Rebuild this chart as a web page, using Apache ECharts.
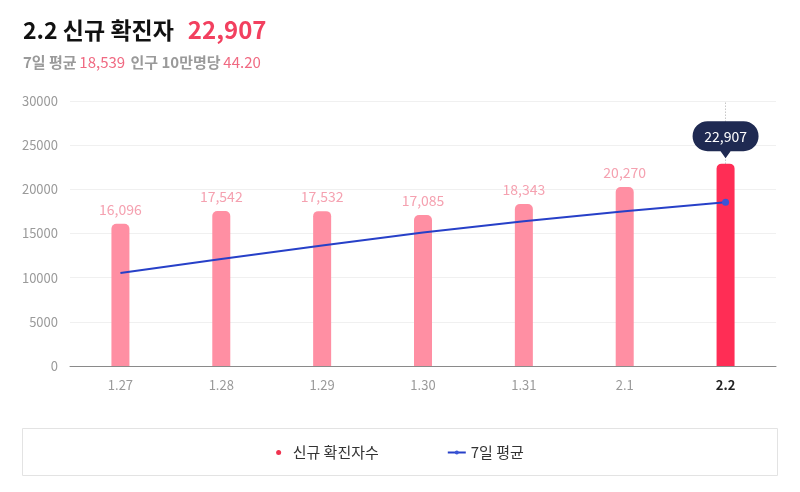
<!DOCTYPE html>
<html><head><meta charset="utf-8">
<script src="https://cdn.jsdelivr.net/npm/echarts@6/dist/echarts.min.js"></script>
<style>html,body{margin:0;padding:0;background:#fff}#c{width:800px;height:492px}</style>
</head><body><div id="c"></div>
<script>
const categories = ['1.27','1.28','1.29','1.30','1.31','2.1','2.2'];
const newCases = [16096, 17542, 17532, 17085, 18343, 20270, 22907];
const avg7 = [10530, 12120, 13630, 15110, 16390, 17530, 18539];
const yTicks = [0, 5000, 10000, 15000, 20000, 25000, 30000];
const titleDate = '2.2';
const titleTotal = '22,907';
const avgText = '18,539';
const per100k = '44.20';

const FONT = '"Noto Sans CJK KR", "Noto Sans", sans-serif';
const last = categories.length - 1;
const fmt = v => v.toLocaleString('en-US');

const chart = echarts.init(document.getElementById('c'));
chart.setOption({
  animation: false,
  textStyle: { fontFamily: FONT },
  title: {
    left: 18, top: 13,
    text: '{a|' + titleDate + ' 신규 확진자}{b|' + titleTotal + '}',
    subtext: '{g|7일 평균} {p|' + avgText + '}  {g|인구 10만명당} {p|' + per100k + '}',
    itemGap: 13,
    textStyle: { rich: {
      a: { fontSize: 23, fontWeight: 'bold', color: '#111', fontFamily: FONT },
      b: { fontSize: 24, fontWeight: 'bold', color: '#f2405f', fontFamily: FONT, padding: [0, 0, 0, 14] }
    } },
    subtextStyle: { rich: {
      g: { fontSize: 15, fontWeight: 'bold', color: '#9a9a9a', fontFamily: FONT },
      p: { fontSize: 15, color: '#f06a82', fontFamily: FONT }
    } }
  },
  grid: { left: 70, right: 24, top: 101, bottom: 126 },
  legend: {
    top: 440, left: 'center', itemGap: 68,
    itemWidth: 18, itemHeight: 5,
    textStyle: { fontSize: 15, color: '#333', fontFamily: FONT },
    data: [
      { name: '신규 확진자수', icon: 'circle', itemStyle: { color: '#f0324f' } },
      { name: '7일 평균' }
    ]
  },
  graphic: [{
    type: 'rect', left: 20, top: 426, silent: true,
    shape: { width: 755, height: 47 },
    style: { fill: 'none', stroke: '#e3e3e3', lineWidth: 1 }
  }],
  xAxis: {
    type: 'category', data: categories,
    axisTick: { show: false },
    axisLine: { lineStyle: { color: '#8a8a8a' } },
    axisLabel: {
      margin: 13, fontSize: 13, color: '#9a9a9a', fontFamily: FONT,
      formatter: (v, i) => i === last ? '{b|' + v + '}' : v,
      rich: { b: { fontWeight: 'bold', color: '#222', fontSize: 13, fontFamily: FONT } }
    }
  },
  yAxis: {
    type: 'value', min: yTicks[0], max: yTicks[yTicks.length - 1], interval: yTicks[1] - yTicks[0],
    axisLine: { show: false }, axisTick: { show: false },
    axisLabel: { margin: 12, fontSize: 13, color: '#9a9a9a', fontFamily: FONT, formatter: v => String(v) },
    splitLine: { lineStyle: { color: '#f0f0f0' } }
  },
  series: [{
    name: '신규 확진자수', type: 'bar', barWidth: 18,
    itemStyle: { color: '#ff8fa3', borderRadius: [5, 5, 0, 0] },
    data: newCases.map((v, i) => i === last
      ? { value: v, itemStyle: { color: '#ff2d55' }, label: { show: false } }
      : v),
    label: {
      show: true, position: 'top', distance: 7, fontSize: 14, color: '#f5a1b0', fontFamily: FONT,
      formatter: p => fmt(p.value)
    },
    markLine: {
      silent: true, symbol: 'none', animation: false,
      lineStyle: { type: [1, 2], color: '#aaa', width: 1 },
      label: { show: false },
      data: [[ { coord: [categories[last], newCases[last]] }, { coord: [categories[last], yTicks[yTicks.length - 1]] } ]]
    },
    markPoint: {
      silent: true, animation: false,
      symbol: 'path://M15,0 H51 A15,15 0 0 1 51,30 H38 L33,37 L28,30 H15 A15,15 0 0 1 15,0 Z',
      symbolSize: [66, 37], symbolKeepAspect: false,
      symbolOffset: [0, -24],
      itemStyle: { color: '#1f2a52' },
      label: { show: true, position: 'inside', offset: [0, -3], color: '#fff', fontSize: 14, fontFamily: FONT,
        formatter: p => fmt(p.value) },
      data: [{ coord: [categories[last], newCases[last]], value: newCases[last] }]
    }
  }, {
    name: '7일 평균', type: 'line', z: 5,
    color: '#2740c8',
    symbol: 'circle', symbolSize: 7, showSymbol: true,
    lineStyle: { width: 2, color: '#2740c8' },
    itemStyle: { color: '#3a55d6' },
    data: avg7.map((v, i) => i === last ? { value: v } : { value: v, symbol: 'none' })
  }]
});
</script></body></html>
